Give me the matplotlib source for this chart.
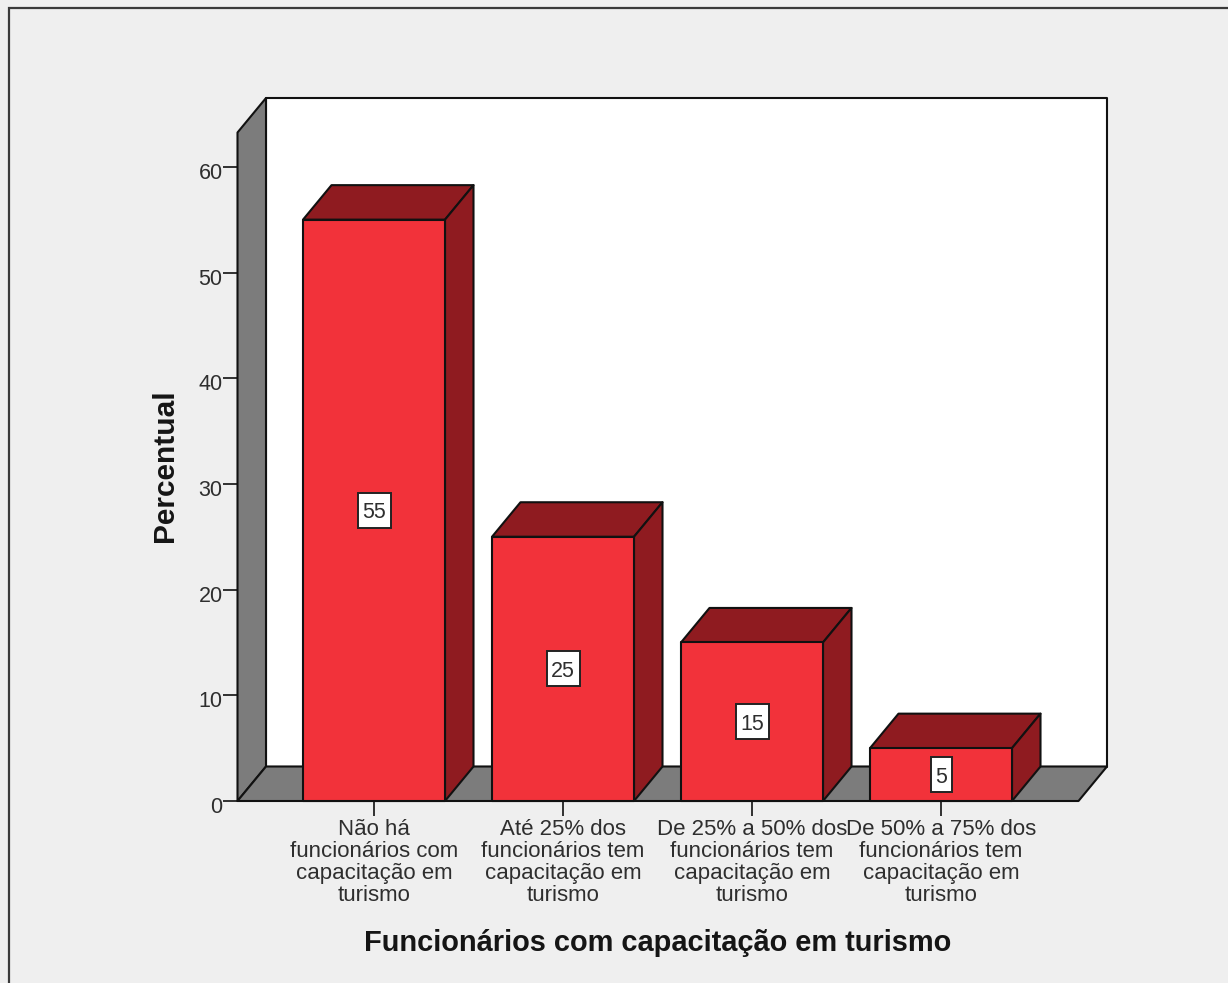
import matplotlib as mpl
import matplotlib.pyplot as plt
from matplotlib.patches import Polygon, Rectangle
from matplotlib.transforms import ScaledTranslation

categories = [
    'Não há\nfuncionários com\ncapacitação em\nturismo',
    'Até 25% dos\nfuncionários tem\ncapacitação em\nturismo',
    'De 25% a 50% dos\nfuncionários tem\ncapacitação em\nturismo',
    'De 50% a 75% dos\nfuncionários tem\ncapacitação em\nturismo',
]
values = [55, 25, 15, 5]
y_ticks = [0, 10, 20, 30, 40, 50, 60]
x_title = 'Funcionários com capacitação em turismo'
y_title = 'Percentual'

W, H = 1228, 983
RED = '#f2323a'
DARK_RED = '#8f1b20'
GREY = '#7c7c7c'
BG = '#efefef'
EDGE = '#111111'
TEXT = '#2e2e2e'

mpl.rcParams['font.family'] = ['Liberation Sans', 'DejaVu Sans']
fig = plt.figure(figsize=(W / 100, H / 100), dpi=100, facecolor=BG)

# outer frame of the chart window, runs off the bottom of the picture
fig.add_artist(Rectangle((9 / W, -0.02), (W - 9) / W + 0.02, 1.02 - 8 / H,
                         transform=fig.transFigure, fill=False, ec='#3a3a3a', lw=1.6))

# front plane of the fake 3d box
left, right, bottom, top = 237.5, 1078.5, 801, 132.5
ax = fig.add_axes([left / W, 1 - bottom / H, (right - left) / W, (bottom - top) / H])
ax.patch.set_visible(False)
for s in ax.spines.values():
    s.set_visible(False)

px_y = 10.57
px_x = 189
ax.set_ylim(0, (bottom - top) / px_y)
ax.set_xlim((left - 374) / px_x, (right - 374) / px_x)
dx = 28.5 / px_x
dy = 34.5 / px_y
bw = 142 / px_x
x0, x1 = ax.get_xlim()
y1 = ax.get_ylim()[1]


def poly(pts, color, z):
    ax.add_patch(Polygon(pts, closed=True, fc=color, ec=EDGE, lw=1.5, zorder=z,
                         joinstyle='round', clip_on=False))


# walls and floor
poly([(x0 + dx, dy), (x1 + dx, dy), (x1 + dx, y1 + dy), (x0 + dx, y1 + dy)], 'white', 1)
poly([(x0, 0), (x0 + dx, dy), (x0 + dx, y1 + dy), (x0, y1)], GREY, 2)
poly([(x0, 0), (x1, 0), (x1 + dx, dy), (x0 + dx, dy)], GREY, 2)

for i, v in enumerate(values):
    a, b = i - bw / 2, i + bw / 2
    poly([(a, v), (b, v), (b + dx, v + dy), (a + dx, v + dy)], DARK_RED, 3)
    poly([(b, 0), (b + dx, dy), (b + dx, v + dy), (b, v)], DARK_RED, 3)
    poly([(a, 0), (b, 0), (b, v), (a, v)], RED, 4)

    # label box is taller than a text bbox would be, so size it in inches around the bar middle
    box_w = (33 if v >= 10 else 21) / 100
    box_h = 35 / 100
    box_trans = fig.dpi_scale_trans + ScaledTranslation(i, v / 2, ax.transData)
    ax.add_patch(Rectangle((-box_w / 2, -box_h / 2), box_w, box_h, transform=box_trans,
                           fc='white', ec='#222222', lw=1.4, zorder=5))
    ax.text(i, v / 2, str(v), ha='center', va='center_baseline', fontsize=15.5, color=TEXT, zorder=6)

ax.set_xticks(range(len(categories)))
ax.set_xticklabels(categories, fontsize=16, color=TEXT, linespacing=1.05)
ax.set_yticks(y_ticks)
ax.tick_params(axis='y', labelsize=15.5, labelcolor=TEXT, length=10.8, width=1.3, color='#222222', pad=0)
ax.tick_params(axis='x', length=10.8, width=1.3, color='#222222', pad=2.5)
for label in ax.get_yticklabels():
    label.set_transform(label.get_transform() + ScaledTranslation(0, -3 / 72, fig.dpi_scale_trans))

fig.text(165 / W, 1 - 466 / H, y_title, rotation=90, ha='center', va='center',
         fontsize=21.5, fontweight='bold', color='#151515')
fig.text(657.5 / W, 1 - 943 / H, x_title, ha='center', va='center',
         fontsize=20.9, fontweight='bold', color='#151515')

fig.savefig('out.png', dpi=100, facecolor=BG)
